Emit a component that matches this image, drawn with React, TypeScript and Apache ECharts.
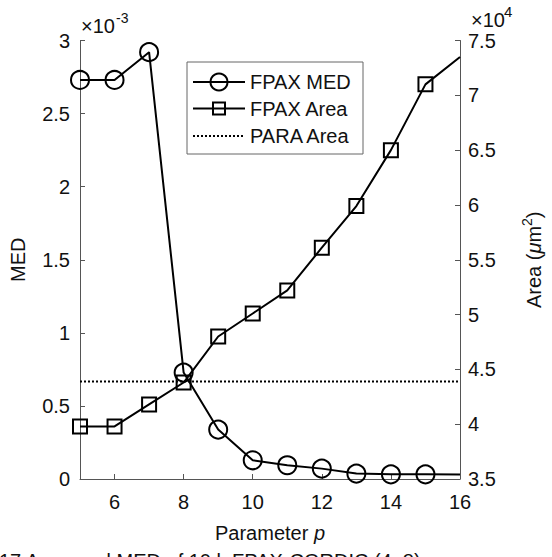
import React, { useEffect, useRef } from 'react';
import * as echarts from 'echarts';

// Parameter p (x axis)
const pValues = [5, 6, 7, 8, 9, 10, 11, 12, 13, 14, 15, 16];
// FPAX MED, in units of 1e-3
const medE3 = [2.73, 2.73, 2.92, 0.728, 0.338, 0.128, 0.094, 0.071, 0.037, 0.032, 0.032, 0.03];
// FPAX Area, in units of 1e4 um^2
const areaE4 = [3.98, 3.98, 4.18, 4.38, 4.8, 5.01, 5.22, 5.61, 5.99, 6.5, 7.1, 7.35];
// PARA Area (constant), in units of 1e4 um^2
const paraAreaE4 = 4.39;
const xTickValues = [6, 8, 10, 12, 14, 16];
const legendNames = ['FPAX MED', 'FPAX Area', 'PARA Area'];
const captionText = '17 Averaged MED of 10 k FPAX-CORDIC (4, 8)';

const FONT = "'Liberation Sans', Arial, Helvetica, sans-serif";
const TXT = '#111';
const AX = '#555';

export default function App() {
  const ref = useRef<HTMLDivElement>(null);
  useEffect(() => {
    document.body.style.margin = '0';
    const chart = echarts.init(ref.current!, null, { renderer: 'svg' });
    const lastX = pValues[pValues.length - 1];
    const mk = (vals: number[]) =>
      pValues.map((p, i) => (p === lastX ? { value: [p, vals[i]], symbol: 'none' } : { value: [p, vals[i]] }));

    const markerStyle = { color: 'rgba(0,0,0,0)', borderColor: '#000', borderWidth: 2 };
    const gLeft = 80, gRight = 83, gTop = 40.5, gBottom = 78;

    // legend geometry
    const lx = 187, ly = 62, lw = 176, lh = 92;
    const rows = [82, 108.5, 136];
    const lineX1 = 193, lineX2 = 245, midX = 219, textX = 250;

    const legendGraphics: any[] = [
      { type: 'rect', shape: { x: lx, y: ly, width: lw, height: lh }, style: { fill: '#fff', stroke: '#666', lineWidth: 1 }, z: 100 },
      { type: 'line', shape: { x1: lineX1, y1: rows[0], x2: lineX2, y2: rows[0] }, style: { stroke: '#000', lineWidth: 2 }, z: 101 },
      { type: 'circle', shape: { cx: midX, cy: rows[0], r: 8.5 }, style: { fill: 'rgba(0,0,0,0)', stroke: '#000', lineWidth: 2 }, z: 102 },
      { type: 'line', shape: { x1: lineX1, y1: rows[1], x2: lineX2, y2: rows[1] }, style: { stroke: '#000', lineWidth: 2 }, z: 101 },
      { type: 'rect', shape: { x: midX - 6, y: rows[1] - 6, width: 12, height: 12 }, style: { fill: 'rgba(0,0,0,0)', stroke: '#000', lineWidth: 2 }, z: 102 },
      { type: 'line', shape: { x1: lineX1, y1: rows[2], x2: lineX2, y2: rows[2] }, style: { stroke: '#000', lineWidth: 2, lineDash: [2, 2] }, z: 101 },
    ];
    legendNames.forEach((n, i) => {
      legendGraphics.push({
        type: 'text', x: textX, y: rows[i], z: 103,
        style: { text: n, fill: TXT, font: `20px ${FONT}`, verticalAlign: 'middle', align: 'left' },
      });
    });

    const option: any = {
      animation: false,
      backgroundColor: '#fff',
      grid: { left: gLeft, right: gRight, top: gTop, bottom: gBottom, containLabel: false },
      xAxis: {
        type: 'value', min: 5, max: 16,
        name: '{a|Parameter }{i|p}', nameLocation: 'middle', nameGap: 44,
        nameTextStyle: {
          rich: {
            a: { fontFamily: FONT, fontSize: 20, color: TXT },
            i: { fontFamily: FONT, fontSize: 20, color: TXT, fontStyle: 'italic' },
          },
        },
        axisLine: { show: true, lineStyle: { color: AX, width: 1 } },
        axisTick: { show: true, inside: true, length: 5, lineStyle: { color: AX }, customValues: xTickValues },
        axisLabel: { customValues: xTickValues, fontFamily: FONT, fontSize: 20, color: TXT, margin: 13 },
        splitLine: { show: false },
      },
      yAxis: [
        {
          type: 'value', min: 0, max: 3, interval: 0.5, position: 'left',
          name: 'MED', nameLocation: 'middle', nameGap: 52, nameRotate: 90,
          nameTextStyle: { fontFamily: FONT, fontSize: 20, color: TXT },
          axisLine: { show: true, lineStyle: { color: AX, width: 1 } },
          axisTick: { show: true, inside: true, length: 5, lineStyle: { color: AX } },
          axisLabel: { fontFamily: FONT, fontSize: 20, color: TXT, margin: 10 },
          splitLine: { show: false },
        },
        {
          type: 'value', min: 3.5, max: 7.5, interval: 0.5, position: 'right',
          name: '{a|Area (}{i|μ}{a|m}{s|2}{a|)}', nameLocation: 'middle', nameGap: 60, nameRotate: 90,
          nameTextStyle: {
            rich: {
              a: { fontFamily: FONT, fontSize: 20, color: TXT, lineHeight: 24, verticalAlign: 'bottom' },
              i: { fontFamily: FONT, fontSize: 20, color: TXT, fontStyle: 'italic', lineHeight: 24, verticalAlign: 'bottom' },
              s: { fontFamily: FONT, fontSize: 14, color: TXT, lineHeight: 24, verticalAlign: 'top' },
            },
          },
          axisLine: { show: true, lineStyle: { color: AX, width: 1 } },
          axisTick: { show: true, inside: true, length: 5, lineStyle: { color: AX } },
          axisLabel: { fontFamily: FONT, fontSize: 20, color: TXT, margin: 8 },
          splitLine: { show: false },
        },
      ],
      series: [
        {
          name: legendNames[0], type: 'line', yAxisIndex: 0,
          data: mk(medE3), symbol: 'circle', symbolSize: 18,
          lineStyle: { color: '#000', width: 2 }, itemStyle: markerStyle, z: 3,
        },
        {
          name: legendNames[1], type: 'line', yAxisIndex: 1,
          data: mk(areaE4), symbol: 'rect', symbolSize: 14,
          lineStyle: { color: '#000', width: 2 }, itemStyle: markerStyle, z: 3,
        },
        {
          name: legendNames[2], type: 'line', yAxisIndex: 1,
          data: [[pValues[0], paraAreaE4], [lastX, paraAreaE4]], symbol: 'none',
          lineStyle: { color: '#000', width: 2, type: [2, 2] }, z: 2,
        },
      ],
      graphic: [
        { type: 'text', x: 81, y: 26, style: { text: '×10', fill: TXT, font: `20px ${FONT}`, verticalAlign: 'middle', align: 'left' } },
        { type: 'text', x: 116, y: 18, style: { text: '-3', fill: TXT, font: `14px ${FONT}`, verticalAlign: 'middle', align: 'left' } },
        { type: 'text', x: 471, y: 20, style: { text: '×10', fill: TXT, font: `20px ${FONT}`, verticalAlign: 'middle', align: 'left' } },
        { type: 'text', x: 504, y: 11, style: { text: '4', fill: TXT, font: `15px ${FONT}`, verticalAlign: 'middle', align: 'left' } },
        { type: 'text', x: -1, y: 551, style: { text: captionText, fill: TXT, font: `20px ${FONT}`, verticalAlign: 'top', align: 'left' } },
        ...legendGraphics,
      ],
    };
    chart.setOption(option);
    return () => chart.dispose();
  }, []);
  return <div ref={ref} style={{ width: 552, height: 557 }} />;
}
